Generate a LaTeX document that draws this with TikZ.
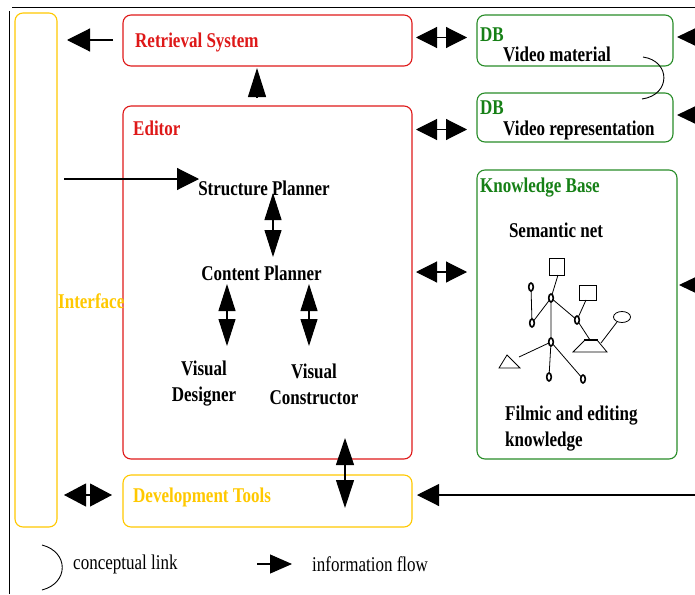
\documentclass[tikz,border=0pt]{standalone}
\usepackage{fontspec}
\setmainfont{Liberation Serif}[FakeStretch=0.81]
\usetikzlibrary{arrows.meta}
\definecolor{cred}{RGB}{222,24,24}
\definecolor{cgreen}{RGB}{22,128,22}
\definecolor{cgline}{RGB}{40,140,40}
\definecolor{cyel}{RGB}{255,200,0}
\begin{document}
\begin{tikzpicture}[x=1pt,y=-1pt,
  box/.style={draw, rounded corners=8pt, line width=1.1pt, inner sep=0pt},
  redbox/.style={box, draw=cred},
  greenbox/.style={box, draw=cgline},
  yelbox/.style={box, draw=cyel},
  txt/.style={font=\fontsize{21}{26}\selectfont\bfseries, inner sep=0pt, anchor=west},
  ctxt/.style={font=\fontsize{21}{26}\selectfont\bfseries, inner sep=0pt, align=center},
  legtxt/.style={font=\fontsize{21}{26}\selectfont, inner sep=0pt, anchor=west},
  conn/.style={line width=1.1pt},
  aH/.style={conn, -{Triangle[length=22pt,width=22pt]}},
  aHH/.style={conn, {Triangle[length=21pt,width=21pt]}-{Triangle[length=21pt,width=21pt]}},
  aVV/.style={conn, {Triangle[length=27pt,width=17pt]}-{Triangle[length=27pt,width=17pt]}},
  aV/.style={conn, -{Triangle[length=29pt,width=18pt]}},
  aR/.style={conn, -{Triangle[length=18pt,width=17pt]}},
  aL/.style={conn, -{Triangle[length=22pt,width=19pt]}},
  net/.style={line width=0.8pt},
  knot/.style={line width=1.6pt, fill=white},
  link/.style={line width=0.9pt}
]
\useasboundingbox (0,0) rectangle (695,594);
% frame
\draw[line width=1pt] (12,8) -- (695,8);
\draw[line width=1pt] (9,11) -- (9,594);

% boxes
\node[yelbox, minimum width=42pt, minimum height=514pt] (iface) at (36,270) {};
\node[redbox, minimum width=289pt, minimum height=51pt] (ret) at (267.5,40.5) {};
\node[redbox, minimum width=289pt, minimum height=353pt] (editor) at (267.5,282.5) {};
\node[yelbox, minimum width=289pt, minimum height=52pt] (dev) at (267.5,501) {};
\node[greenbox, minimum width=196pt, minimum height=51pt] (db1) at (575,40.5) {};
\node[greenbox, minimum width=196pt, minimum height=49pt] (db2) at (575,117.5) {};
\node[greenbox, minimum width=200pt, minimum height=289pt] (kb) at (577,314.5) {};

% labels
\node[txt, text=cyel] (ifacelbl) at (58,301) {Interface};
\node[txt, text=cred] (retlbl) at (135,42) {Retrieval System};
\node[txt, text=cred] (edlbl) at (133,128) {Editor};
\node[txt, text=cyel] (devlbl) at (133,497) {Development Tools};
\node[txt, text=cgreen] (db1lbl) at (480,35) {DB};
\node[txt] (vm) at (503,54) {Video material};
\node[txt, text=cgreen] (db2lbl) at (480,108) {DB};
\node[txt] (vr) at (503,130) {Video representation};
\node[txt, text=cgreen] (kblbl) at (480,188) {Knowledge Base};
\node[ctxt] (sn) at (556,230) {Semantic net};
\node[txt] (fk1) at (505,416) {Filmic and editing};
\node[txt] (fk2) at (505,442) {knowledge};

\node[ctxt] (sp) at (264,188) {Structure Planner};
\node[ctxt] (cp) at (261.5,273) {Content Planner};
\node[ctxt] (vd) at (204,384) {Visual\\Designer};
\node[ctxt] (vc) at (314,384) {Visual\\Constructor};

% connectors
\coordinate (retout) at (113,40);
\coordinate (ifin) at (67,40);
\draw[aH, -{Triangle[length=23pt,width=23pt]}] (retout) -- (ifin);

\coordinate (edup) at (257,98);
\coordinate (retdn) at (257,68);
\draw[aV] (edup) -- (retdn);

\coordinate (ifout) at (64,179);
\coordinate (spin) at (199,179);
\draw[aH] (ifout) -- (spin);

\coordinate (sp1) at (273,193);
\coordinate (cp1) at (273,257);
\draw[aVV] (sp1) -- (cp1);
\coordinate (cp2) at (227,284);
\coordinate (vd1) at (227,346);
\draw[aVV] (cp2) -- (vd1);
\coordinate (cp3) at (309,284);
\coordinate (vc1) at (309,346);
\draw[aVV] (cp3) -- (vc1);

\coordinate (ed2) at (345,438);
\coordinate (dv2) at (345,508);
\draw[aVV, {Triangle[length=27pt,width=18pt]}-{Triangle[length=28pt,width=18pt]}] (ed2) -- (dv2);

\coordinate (if3) at (64,495);
\coordinate (dv3) at (112,495);
\draw[aHH, {Triangle[length=22pt,width=23pt]}-{Triangle[length=22pt,width=23pt]}] (if3) -- (dv3);

\coordinate (r1) at (416,37.5);
\coordinate (d1) at (467,37.5);
\draw[aHH] (r1) -- (d1);
\coordinate (r2) at (416,129.5);
\coordinate (d2) at (467,129.5);
\draw[aHH] (r2) -- (d2);
\coordinate (r3) at (416,272);
\coordinate (d3) at (467,272);
\draw[aHH] (r3) -- (d3);

\coordinate (e1) at (695,37);
\coordinate (e1t) at (677,37);
\draw[aR] (e1) -- (e1t);
\coordinate (e2) at (695,115);
\coordinate (e2t) at (677,115);
\draw[aR] (e2) -- (e2t);
\coordinate (e3) at (695,285);
\coordinate (e3t) at (679,285);
\draw[aR] (e3) -- (e3t);

\coordinate (e4) at (695,495);
\coordinate (e4t) at (417,495);
\draw[aH] (e4) -- (e4t);

% conceptual link between databases
\draw[link] (643,57) .. controls (671,61) and (671,95) .. (642,99);

% semantic net
\draw[net] (549,258) rectangle (564,275);
\draw[net] (579,285) rectangle (596,300);
\draw[net] (622,317) ellipse (8.5pt and 5.5pt);
\draw[net] (573,352) -- (607,352) -- (597,340) -- (585,340) -- cycle;
\draw[line width=1.8pt] (584,340) -- (598,340);
\draw[net] (499,368) -- (520,368) -- (507,355) -- cycle;
\draw[net] (558,275) -- (551,298) -- (532,323);
\draw[net] (531,287) -- (532,323);
\draw[net] (551,298) -- (551,342) -- (549,377);
\draw[net] (551,298) -- (577,320);
\draw[net] (586,300) -- (577,320) -- (590,340);
\draw[net] (601,343) -- (617,322);
\draw[net] (551,342) -- (519,357);
\draw[net] (551,342) -- (583,379);
\foreach \p in {(531,287),(551,298),(532,323),(577,320),(551,342),(549,377),(583,379)}
  \draw[knot] \p ellipse (2.3pt and 4pt);

% legend
\coordinate (lc1) at (42,545);
\coordinate (lc2) at (42,590);
\draw[link] (lc1) .. controls (69,552) and (69,583) .. (lc2);
\node[legtxt] (cl) at (73,564) {conceptual link};
\coordinate (la1) at (257,564);
\coordinate (la2) at (292,564);
\draw[aL] (la1) -- (la2);
\node[legtxt] (inf) at (312,564) {information flow};
\end{tikzpicture}
\end{document}
